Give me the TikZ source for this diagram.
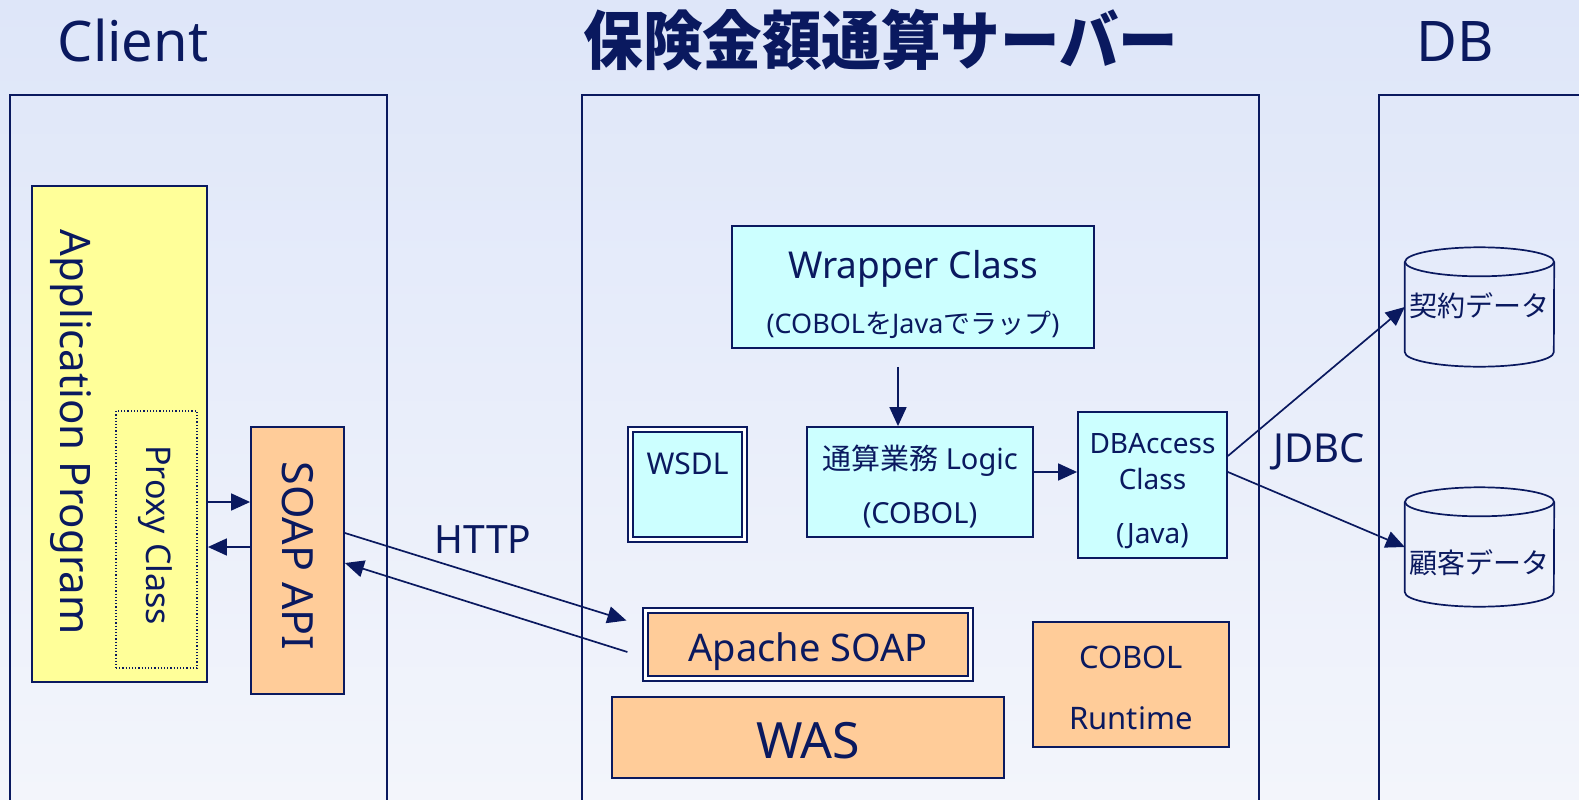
\documentclass[tikz,border=0pt]{standalone}
\usepackage{fontspec}
\setmainfont{Noto Sans}
\newfontfamily\jp{Noto Sans CJK JP}
\usetikzlibrary{arrows.meta,calc}
\definecolor{navy}{RGB}{10,25,95}
\definecolor{bgtop}{RGB}{222,230,249}
\definecolor{bgbot}{RGB}{243,245,251}
\definecolor{yfill}{RGB}{255,255,153}
\definecolor{ofill}{RGB}{255,204,153}
\definecolor{cfill}{RGB}{204,255,255}
\begin{document}
\begin{tikzpicture}[x=1pt,y=-1pt,
  fs/.style={font=\fontsize{#1}{#1}\selectfont},
  txt/.style={text=navy,inner sep=0pt,anchor=mid},
  box/.style={draw=navy,line width=1.8pt,inner sep=0pt,rectangle},
  panel/.style={draw=navy,line width=1.9pt,inner sep=0pt,rectangle},
  dbl/.style={draw=navy,double,line width=1.8pt,double distance=3pt,inner sep=0pt},
  arr/.style={draw=navy,line width=1.7pt,-{Triangle[length=19pt,width=17pt]}},
  cyl/.style={draw=navy,line width=1.7pt}]
\useasboundingbox (0,0) rectangle (1579,800);
\shade[top color=bgtop,bottom color=bgbot] (0,0) rectangle (1579,800);

% titles
\node[txt,fs=56] (tclient) at (133,59) {Client};
\node[txt,fs=64,xscale=0.93] (tserver) at (881,62) {\jp\bfseries 保険金額通算サーバー};
\node[txt,fs=56] (tdb) at (1455,59) {DB};

% panels
\node[panel,minimum width=377pt,minimum height=735pt] (pclient) at (198.5,462.5) {};
\node[panel,minimum width=677pt,minimum height=735pt] (pserver) at (920.5,462.5) {};
\node[panel,minimum width=271pt,minimum height=735pt] (pdb) at (1514.5,462.5) {};

% client side
\node[box,fill=yfill,minimum width=175pt,minimum height=496pt] (app) at (119.5,434) {};
\node[txt,fs=42,rotate=-90] (apptxt) at (63,432) {Application Program};
\node[draw=navy,line width=1.2pt,dotted,inner sep=0pt,minimum width=81pt,minimum height=257pt] (proxy) at (156.5,539.5) {};
\node[txt,fs=34,rotate=-90] (proxytxt) at (149,535) {Proxy Class};
\node[box,fill=ofill,minimum width=93pt,minimum height=267pt] (soapapi) at (297.5,560.5) {};
\node[txt,fs=43,rotate=-90] (soaptxt) at (285,556) {SOAP API};

\coordinate (ya) at (0,502);
\coordinate (yb) at (0,547);
\draw[arr] (app.east |- ya) -- (soapapi.west |- ya);
\draw[arr] (soapapi.west |- yb) -- (app.east |- yb);

% server side
\node[box,fill=cfill,minimum width=362pt,minimum height=122pt] (wrapper) at (913,287) {};
\node[txt,fs=37] (wrt1) at (913,276) {Wrapper Class};
\node[txt,fs=27] (wrt2) at (913,331) {(COBOL{\jp を}Java{\jp でラップ})};

\node[box,fill=cfill,minimum width=226pt,minimum height=110pt] (logic) at (920,482) {};
\node[txt,fs=29] (lgt1) at (920,467) {{\jp 通算業務} Logic};
\node[txt,fs=29] (lgt2) at (920,521) {(COBOL)};

\node[box,fill=cfill,minimum width=149pt,minimum height=146pt] (dbacc) at (1152.5,485) {};
\node[txt,fs=28] (dbt1) at (1152.5,451) {DBAccess};
\node[txt,fs=28] (dbt2) at (1152.5,487) {Class};
\node[txt,fs=28] (dbt3) at (1152.5,541) {(Java)};

\node[dbl,fill=cfill,minimum width=114.4pt,minimum height=110.4pt] (wsdl) at (687.5,484.5) {};
\node[txt,fs=30] (wsdlt) at (687.5,472) {WSDL};

\node[dbl,fill=ofill,minimum width=325.4pt,minimum height=68.4pt] (apache) at (808,644.5) {};
\node[txt,fs=38] (apt) at (808,659) {Apache SOAP};

\node[box,fill=ofill,minimum width=392pt,minimum height=81pt] (was) at (808,737.5) {};
\node[txt,fs=50] (wast) at (808,756) {WAS};

\node[box,fill=ofill,minimum width=196pt,minimum height=125pt] (cobrt) at (1131,684.5) {};
\node[txt,fs=31] (cbt1) at (1131,666) {COBOL};
\node[txt,fs=31] (cbt2) at (1131,727) {Runtime};

\coordinate (wl) at ($(wrapper.south)+(-15,18)$);
\draw[arr] (wl) -- (logic.north -| wl);
\coordinate (yc) at (0,472);
\draw[arr] (logic.east |- yc) -- (dbacc.west |- yc);

% HTTP
\coordinate (ht1) at ($(apache.west)+(-18,-24)$);
\coordinate (ht2) at ($(apache.west)+(-17,7.5)$);
\coordinate (yd) at (0,533);
\coordinate (ye) at (0,563);
\draw[arr] (soapapi.east |- yd) -- (ht1);
\draw[arr] (ht2) -- (soapapi.east |- ye);
\node[txt,fs=39] (http) at (483,551) {HTTP};

% DB side
\node[inner sep=0pt,minimum width=149pt,minimum height=90pt] (c1) at (1479.5,307) {};
\node[inner sep=0pt,minimum width=149pt,minimum height=90pt] (c2) at (1479.5,547) {};
\foreach \c in {c1,c2}{
  \draw[cyl] (\c.north) ellipse [x radius=74.5pt,y radius=14.5pt];
  \draw[cyl] (\c.north west) -- (\c.south west)
     arc[start angle=180,end angle=360,x radius=74.5pt,y radius=14.5pt]
     -- (\c.north east);
}
\node[txt,fs=28] (c1t) at (1479.5,314) {\jp 契約データ};
\node[txt,fs=28] (c2t) at (1479.5,571) {\jp 顧客データ};

\coordinate (yf) at (0,456);
\coordinate (yg) at (0,472);
\draw[arr] (dbacc.east |- yf) -- (c1.west);
\draw[arr] (dbacc.east |- yg) -- (c2.west);
\node[txt,fs=40] (jdbc) at (1319,460) {JDBC};
\end{tikzpicture}
\end{document}
